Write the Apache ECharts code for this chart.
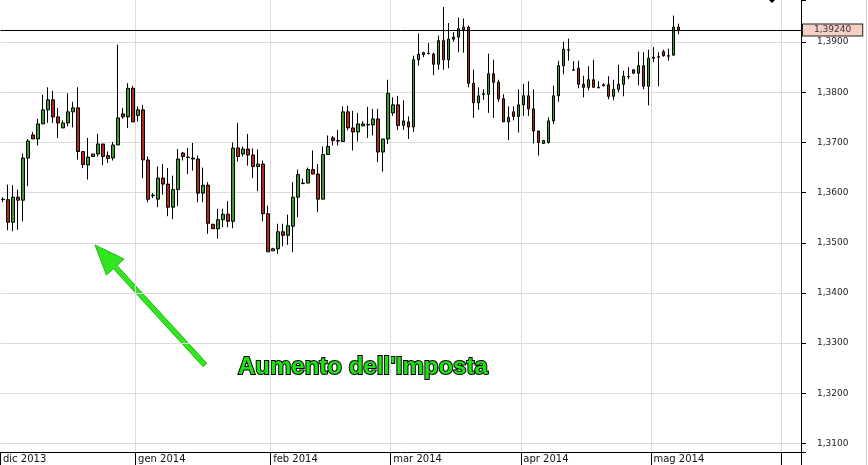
<!DOCTYPE html>
<html>
<head>
<meta charset="utf-8">
<script src="https://cdn.jsdelivr.net/npm/echarts@6/dist/echarts.min.js"></script>
<style>
html, body { margin: 0; padding: 0; background: #fff; }
#chart { width: 868px; height: 465px; }
</style>
</head>
<body>
<div id="chart"></div>
<script>
/* EUR/USD giornaliero, dic 2013 - mag 2014 (sessioni dom-ven) */
const startDay = "2013-12-01";
const dayCount = 160;
const monthNames = ["gen", "feb", "mar", "apr", "mag", "giu", "lug", "ago", "set", "ott", "nov", "dic"];
const lastLabelMonth = "2014-05"; // l'etichetta di giugno e' tagliata
const lastPrice = 1.3924;
const noteText = "Aumento dell'Imposta";

// [open, close, low, high]
const ohlcDic = [
  [1.3586, 1.3587, 1.3581, 1.3591], [1.3586, 1.3541, 1.3525, 1.3616], [1.3541, 1.3591, 1.3523, 1.3615],
  [1.3591, 1.3585, 1.3526, 1.3606], [1.3585, 1.3669, 1.3543, 1.3678], [1.3669, 1.3703, 1.3613, 1.3707],
  [1.3715, 1.3707, 1.3707, 1.3721], [1.3707, 1.3737, 1.3694, 1.3747], [1.3737, 1.3765, 1.3737, 1.3795],
  [1.3765, 1.3785, 1.3739, 1.3810], [1.3785, 1.3751, 1.3739, 1.3803], [1.3751, 1.3739, 1.3709, 1.3769],
  [1.3729, 1.3739, 1.3729, 1.3744], [1.3739, 1.3761, 1.3732, 1.3798], [1.3761, 1.3769, 1.3730, 1.3781],
  [1.3769, 1.3682, 1.3666, 1.3810], [1.3682, 1.3656, 1.3649, 1.3682], [1.3655, 1.3671, 1.3626, 1.3709],
  [1.3672, 1.3677, 1.3672, 1.3677], [1.3677, 1.3697, 1.3672, 1.3717], [1.3697, 1.3672, 1.3655, 1.3697],
  [1.3674, 1.3668, 1.3659, 1.3682], [1.3669, 1.3695, 1.3664, 1.3701], [1.3695, 1.3749, 1.3695, 1.3895],
  [1.3757, 1.3751, 1.3747, 1.3769], [1.3751, 1.3808, 1.3729, 1.3818], [1.3808, 1.3741, 1.3741, 1.3813]
];
const ohlcGen = [
  [1.3754, 1.3765, 1.3742, 1.3772], [1.3765, 1.3665, 1.3629, 1.3775], [1.3665, 1.3587, 1.3581, 1.3672],
  [1.3595, 1.3594, 1.3589, 1.3599], [1.3587, 1.3629, 1.3571, 1.3652], [1.3629, 1.3617, 1.3596, 1.3657],
  [1.3617, 1.3571, 1.3553, 1.3649], [1.3571, 1.3606, 1.3547, 1.3634], [1.3606, 1.3667, 1.3573, 1.3687],
  [1.3679, 1.3672, 1.3664, 1.3681], [1.3670, 1.3671, 1.3637, 1.3689], [1.3669, 1.3667, 1.3644, 1.3699],
  [1.3667, 1.3599, 1.3581, 1.3674], [1.3599, 1.3615, 1.3581, 1.3650], [1.3615, 1.3539, 1.3518, 1.3621],
  [1.3537, 1.3528, 1.3528, 1.3537], [1.3528, 1.3546, 1.3508, 1.3568], [1.3546, 1.3557, 1.3531, 1.3568],
  [1.3557, 1.3543, 1.3531, 1.3583], [1.3543, 1.3689, 1.3529, 1.3700], [1.3689, 1.3672, 1.3662, 1.3739],
  [1.3677, 1.3687, 1.3672, 1.3692], [1.3687, 1.3675, 1.3654, 1.3717], [1.3675, 1.3652, 1.3629, 1.3688],
  [1.3652, 1.3657, 1.3603, 1.3686], [1.3657, 1.3558, 1.3543, 1.3664], [1.3558, 1.3482, 1.3482, 1.3574]
];
const ohlcFeb = [
  [1.3484, 1.3488, 1.3484, 1.3490], [1.3488, 1.3522, 1.3478, 1.3538], [1.3522, 1.3515, 1.3493, 1.3538],
  [1.3515, 1.3534, 1.3496, 1.3556], [1.3533, 1.3591, 1.3481, 1.3621], [1.3591, 1.3636, 1.3551, 1.3646],
  [1.3619, 1.3618, 1.3617, 1.3628], [1.3619, 1.3646, 1.3619, 1.3650], [1.3646, 1.3637, 1.3637, 1.3684],
  [1.3637, 1.3587, 1.3561, 1.3657], [1.3587, 1.3676, 1.3587, 1.3692], [1.3676, 1.3692, 1.3676, 1.3714],
  [1.3709, 1.3704, 1.3694, 1.3713], [1.3704, 1.3703, 1.3694, 1.3725], [1.3702, 1.3761, 1.3702, 1.3772],
  [1.3761, 1.3729, 1.3724, 1.3773], [1.3729, 1.3721, 1.3684, 1.3763], [1.3721, 1.3737, 1.3702, 1.3759],
  [1.3733, 1.3737, 1.3733, 1.3742], [1.3735, 1.3736, 1.3709, 1.3771], [1.3735, 1.3747, 1.3714, 1.3767],
  [1.3747, 1.3681, 1.3661, 1.3767], [1.3681, 1.3707, 1.3642, 1.3707], [1.3707, 1.3798, 1.3697, 1.3825]
];
const ohlcMar = [
  [1.3759, 1.3775, 1.3753, 1.3790], [1.3775, 1.3734, 1.3725, 1.3793], [1.3734, 1.3743, 1.3725, 1.3784],
  [1.3741, 1.3731, 1.3707, 1.3752], [1.3731, 1.3865, 1.3721, 1.3873], [1.3865, 1.3876, 1.3853, 1.3917],
  [1.3875, 1.3879, 1.3870, 1.3881], [1.3878, 1.3877, 1.3876, 1.3898], [1.3876, 1.3856, 1.3834, 1.3879],
  [1.3856, 1.3903, 1.3845, 1.3913], [1.3903, 1.3865, 1.3845, 1.3970], [1.3865, 1.3906, 1.3848, 1.3938],
  [1.3906, 1.3910, 1.3901, 1.3920], [1.3910, 1.3927, 1.3880, 1.3949], [1.3925, 1.3930, 1.3879, 1.3947],
  [1.3930, 1.3818, 1.3810, 1.3933], [1.3818, 1.3779, 1.3749, 1.3845], [1.3779, 1.3793, 1.3765, 1.3810],
  [1.3796, 1.3797, 1.3785, 1.3806], [1.3796, 1.3837, 1.3759, 1.3877], [1.3837, 1.3820, 1.3749, 1.3865],
  [1.3820, 1.3787, 1.3781, 1.3825], [1.3787, 1.3741, 1.3741, 1.3796], [1.3741, 1.3750, 1.3705, 1.3772],
  [1.3761, 1.3752, 1.3744, 1.3772], [1.3752, 1.3775, 1.3720, 1.3806]
];
const ohlcApr = [
  [1.3775, 1.3793, 1.3753, 1.3817], [1.3793, 1.3767, 1.3753, 1.3822], [1.3767, 1.3723, 1.3698, 1.3806],
  [1.3723, 1.3700, 1.3674, 1.3723], [1.3698, 1.3704, 1.3698, 1.3705], [1.3700, 1.3743, 1.3698, 1.3750],
  [1.3743, 1.3793, 1.3737, 1.3813], [1.3793, 1.3853, 1.3781, 1.3863], [1.3853, 1.3886, 1.3836, 1.3901],
  [1.3885, 1.3884, 1.3863, 1.3907], [1.3845, 1.3844, 1.3844, 1.3862], [1.3848, 1.3816, 1.3808, 1.3863],
  [1.3816, 1.3810, 1.3790, 1.3833], [1.3810, 1.3825, 1.3804, 1.3852], [1.3825, 1.3810, 1.3810, 1.3865],
  [1.3810, 1.3809, 1.3808, 1.3822], [1.3815, 1.3813, 1.3812, 1.3818], [1.3815, 1.3792, 1.3786, 1.3832],
  [1.3792, 1.3806, 1.3784, 1.3825], [1.3806, 1.3816, 1.3800, 1.3855], [1.3816, 1.3832, 1.3792, 1.3843],
  [1.3832, 1.3831, 1.3826, 1.3850], [1.3845, 1.3838, 1.3838, 1.3845], [1.3838, 1.3853, 1.3814, 1.3881],
  [1.3853, 1.3812, 1.3806, 1.3880], [1.3812, 1.3868, 1.3774, 1.3885]
];
const ohlcMag = [
  [1.3868, 1.3870, 1.3860, 1.3890], [1.3870, 1.3871, 1.3812, 1.3880], [1.3881, 1.3873, 1.3871, 1.3885],
  [1.3873, 1.3872, 1.3863, 1.3887], [1.3874, 1.3930, 1.3874, 1.3953], [1.3930, 1.3924, 1.3916, 1.3937]
];

function tradingDays(start, n) {
  const out = [];
  const d = new Date(start + "T00:00:00Z");
  while (out.length < n) {
    if (d.getUTCDay() !== 6) out.push(d.toISOString().slice(0, 10));
    d.setUTCDate(d.getUTCDate() + 1);
  }
  return out;
}

const days = tradingDays(startDay, dayCount);
const ohlc = [].concat(ohlcDic, ohlcGen, ohlcFeb, ohlcMar, ohlcApr, ohlcMag);

function isMonthStart(i) {
  return i === 0 || days[i].slice(0, 7) !== days[i - 1].slice(0, 7);
}
function monthLabel(day) {
  return monthNames[Number(day.slice(5, 7)) - 1] + " " + day.slice(0, 4);
}
const fmt = (v, d) => v.toFixed(d).replace(".", ",");

const chart = echarts.init(document.getElementById("chart"), null, { renderer: "canvas" });

chart.setOption({
  animation: false,
  grid: { left: 0, right: 67, top: 0, bottom: 13 },
  xAxis: {
    type: "category",
    data: days,
    boundaryGap: true,
    axisLine: { show: true, lineStyle: { color: "#000", width: 1 } },
    axisTick: {
      show: true,
      length: 13,
      interval: (i) => isMonthStart(i),
      lineStyle: { color: "#000" }
    },
    axisLabel: {
      interval: (i, v) => isMonthStart(i) && v.slice(0, 7) <= lastLabelMonth,
      formatter: (v) => monthLabel(v),
      align: "left",
      margin: 2,
      fontSize: 10,
      fontFamily: "DejaVu Sans",
      color: "#111"
    },
    splitLine: {
      show: true,
      interval: (i) => isMonthStart(i) && i > 0,
      lineStyle: { color: "#dcdcdc", width: 1 }
    }
  },
  yAxis: {
    type: "value",
    position: "right",
    scale: true,
    min: 1.3083,
    max: 1.3984,
    splitNumber: 9,
    axisLine: { show: true, lineStyle: { color: "#000" } },
    axisTick: { show: true, length: 5, lineStyle: { color: "#000" } },
    axisLabel: {
      margin: 16,
      fontSize: 9,
      fontFamily: "DejaVu Sans",
      color: "#222",
      formatter: (v) => (Math.abs(v * 100 - Math.round(v * 100)) < 1e-6 ? fmt(v, 4) : "")
    },
    splitLine: { show: true, showMinLine: false, showMaxLine: false, lineStyle: { color: "#dcdcdc" } }
  },
  series: [
    {
      type: "candlestick",
      data: ohlc,
      barWidth: 3,
      itemStyle: {
        color: "#3a9a2a",
        color0: "#b0281a",
        borderColor: "#000",
        borderColor0: "#000",
        borderColorDoji: "#000",
        borderWidth: 1
      },
      markLine: {
        silent: true,
        symbol: "none",
        precision: 5,
        data: [{ yAxis: lastPrice }],
        lineStyle: { color: "#000", type: "solid", width: 1 },
        label: {
          position: "end",
          distance: 2,
          formatter: () => fmt(lastPrice, 5),
          backgroundColor: "#f6cfc6",
          borderColor: "#222",
          borderWidth: 1,
          padding: [1, 11, 0, 11],
          fontSize: 9,
          lineHeight: 10,
          fontFamily: "DejaVu Sans",
          color: "#333"
        }
      }
    }
  ],
  graphic: [
    {
      type: "polygon",
      shape: {
        points: [[95, 245], [124, 259], [117, 265.5], [206.8, 363.3], [203.2, 366.7], [113.5, 268.8], [106.5, 275]]
      },
      style: { fill: "#2fe61f", stroke: "#1fb814", lineWidth: 1 }
    },
    {
      type: "text",
      x: 238,
      y: 367,
      style: {
        text: noteText,
        font: "bold 24px 'Liberation Sans'",
        fill: "#22e015",
        stroke: "#000",
        lineWidth: 2,
        strokeFirst: true,
        verticalAlign: "middle"
      }
    },
    {
      type: "polygon",
      shape: { points: [[769, 0], [772, -3], [775, 0], [772, 3]] },
      style: { fill: "#000" }
    },
    {
      type: "line",
      shape: { x1: 801.5, y1: 452, x2: 801.5, y2: 465 },
      style: { stroke: "#000", lineWidth: 1 }
    },
    {
      type: "line",
      shape: { x1: 866.5, y1: 0, x2: 866.5, y2: 465 },
      style: { stroke: "#d0d0d0", lineWidth: 1 }
    }
  ]
});

window.addEventListener("resize", () => chart.resize());
</script>
</body>
</html>
